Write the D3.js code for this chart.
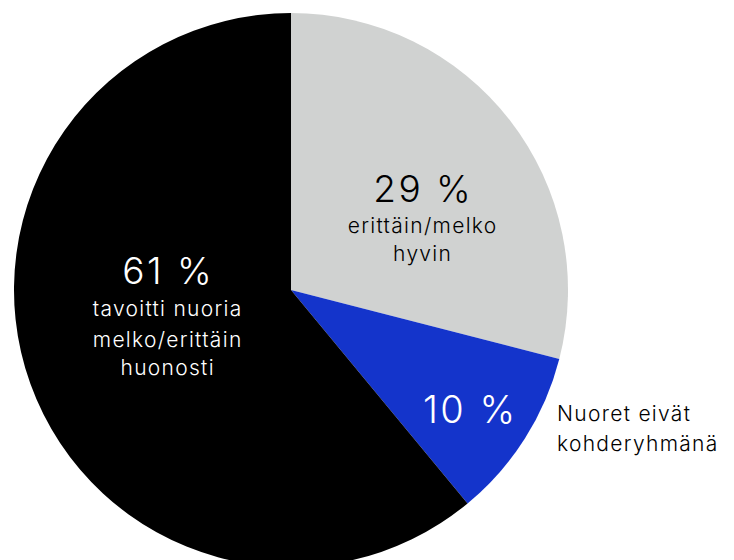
<!DOCTYPE html>
<html><head><meta charset="utf-8">
<script src="https://cdn.jsdelivr.net/npm/d3@7"></script>
<style>body{margin:0;background:#fff}svg{display:block}text{font-family:Inter,"Noto Sans",sans-serif;font-weight:350}</style>
</head><body><svg width="734" height="560"></svg>
<script>
const categories = ["erittäin/melko hyvin", "Nuoret eivät kohderyhmänä", "tavoitti nuoria melko/erittäin huonosti"];
const values = [29, 10, 61];
const colors = ["#d0d2d1", "#1434cb", "#000000"];
const valueLabels = ["29 %", "10 %", "61 %"];

const svg = d3.select("svg");
const cx = 291, cy = 290, r = 277;
const g = svg.append("g").attr("transform", `translate(${cx},${cy})`);
const pie = d3.pie().sort(null).value(d => d)(values);
const arc = d3.arc().innerRadius(0).outerRadius(r);
g.selectAll("path").data(pie).join("path")
  .attr("d", arc).attr("fill", (d, i) => colors[i]);

const big = 37, small = 21, lsBig = 2.5, lsSmall = 1.3;
function addText(sel, x, y, size, ls, str, mid) {
  sel.append("tspan").attr("x", mid ? x + ls / 2 : x).attr("y", y).attr("font-size", size)
     .attr("letter-spacing", ls).text(str);
}
// gray slice label
const t1 = g.append("text").attr("text-anchor", "middle").attr("fill", "#000");
addText(t1, 131, -88, big, lsBig, valueLabels[0], true);
addText(t1, 131, -57, small, lsSmall, "erittäin/melko", true);
addText(t1, 131, -29, small, lsSmall, "hyvin", true);

// blue slice
const tb = g.append("text").attr("text-anchor", "middle").attr("fill", "#fff");
addText(tb, 178, 133, 38, lsBig, valueLabels[1], true);
const t2 = g.append("text").attr("fill", "#000");
addText(t2, 266, 131, small, lsSmall, "Nuoret eivät");
addText(t2, 266, 161, small, lsSmall, "kohderyhmänä");

// black slice
const t3 = g.append("text").attr("text-anchor", "middle").attr("fill", "#fff");
addText(t3, -124, -6, big, lsBig, valueLabels[2], true);
addText(t3, -124, 26, small, lsSmall, "tavoitti nuoria", true);
addText(t3, -124, 57, small, lsSmall, "melko/erittäin", true);
addText(t3, -124, 85, small, lsSmall, "huonosti", true);
</script></body></html>
